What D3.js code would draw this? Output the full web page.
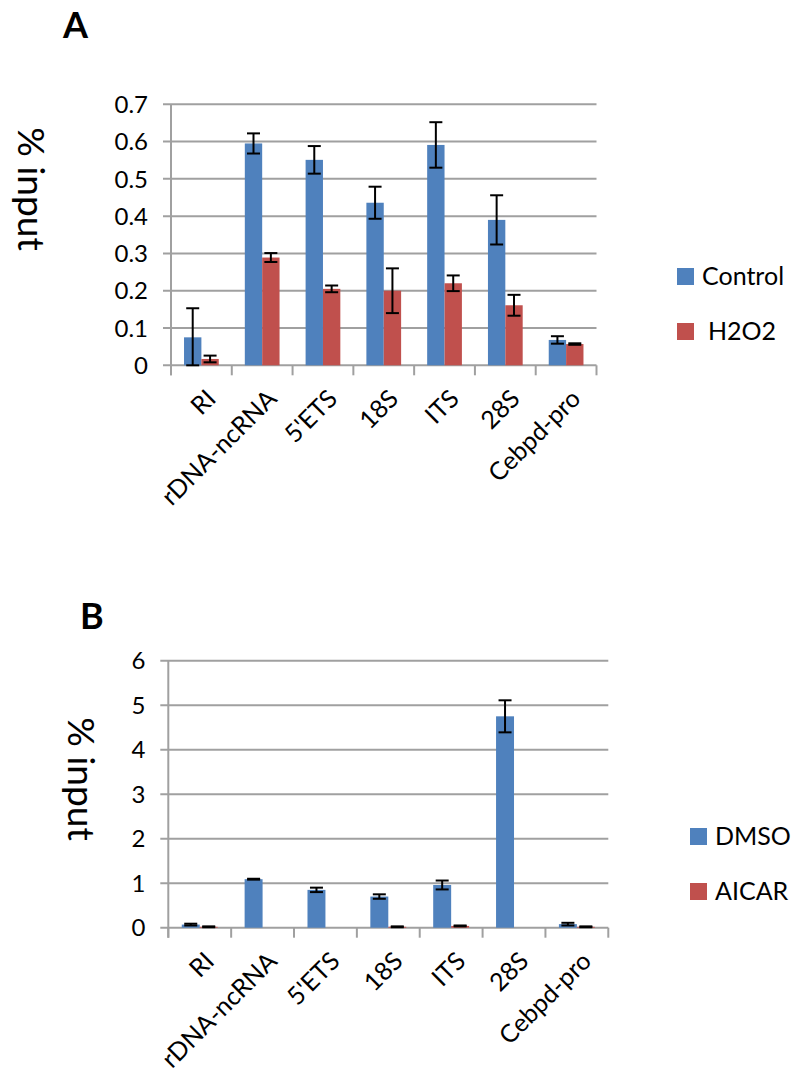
<!DOCTYPE html>
<html>
<head>
<meta charset="utf-8">
<script src="https://cdn.jsdelivr.net/npm/d3@7"></script>
<style>
  body { margin: 0; background: #fff; }
  text { font-family: Lato, "Open Sans", sans-serif; fill: #000; }
</style>
</head>
<body>
<svg id="chart" width="792" height="1074"></svg>
<script>
// categories shared by both panels
var categories = ["RI", "rDNA-ncRNA", "5'ETS", "18S", "ITS", "28S", "Cebpd-pro"];

// panel A values
var controlVals = [0.075, 0.595, 0.551, 0.436, 0.591, 0.390, 0.068];
var controlErr  = [0.078, 0.027, 0.037, 0.043, 0.061, 0.066, 0.010];
var h2o2Vals    = [0.017, 0.289, 0.205, 0.200, 0.220, 0.161, 0.057];
var h2o2Err     = [0.009, 0.012, 0.009, 0.060, 0.021, 0.028, 0.002];
var ticksA = [0, 0.1, 0.2, 0.3, 0.4, 0.5, 0.6, 0.7];

// panel B values
var dmsoVals  = [0.07, 1.09, 0.85, 0.70, 0.96, 4.75, 0.08];
var dmsoErr   = [0.02, 0.01, 0.05, 0.05, 0.10, 0.36, 0.03];
var aicarVals = [0.02, 0, 0, 0.02, 0.04, 0, 0.02];
var aicarErr  = [0.01, 0, 0, 0.01, 0.01, 0, 0.01];
var ticksB = [0, 1, 2, 3, 4, 5, 6];

var blue = "#4f81bd", red = "#c0504d", grid = "#a0a0a0";

var svg = d3.select("#chart");

function drawPanel(opt) {
  var g = svg.append("g");

  var x0 = d3.scaleBand().domain(categories).range([opt.left, opt.right]).paddingInner(0).paddingOuter(0);
  var x1 = d3.scaleBand().domain(opt.series).range([0, x0.bandwidth()]).paddingInner(0).paddingOuter(0.75);
  var y = d3.scaleLinear().domain([0, opt.max]).range([opt.bottom, opt.top]);

  // gridlines
  g.selectAll(".grid").data(opt.ticks).enter().append("line")
    .attr("x1", opt.left - 8).attr("x2", opt.right)
    .attr("y1", function(d) { return y(d); }).attr("y2", function(d) { return y(d); })
    .attr("stroke", grid).attr("stroke-width", 2);

  // left axis line
  g.append("line")
    .attr("x1", opt.left).attr("x2", opt.left)
    .attr("y1", y(opt.max)).attr("y2", opt.bottom + 10)
    .attr("stroke", grid).attr("stroke-width", 2);

  // category tick marks
  var bounds = categories.map(function(c) { return x0(c); }).concat([opt.right]);
  g.selectAll(".ctick").data(bounds).enter().append("line")
    .attr("x1", function(d) { return d; }).attr("x2", function(d) { return d; })
    .attr("y1", opt.bottom).attr("y2", opt.bottom + 10)
    .attr("stroke", grid).attr("stroke-width", 2);

  // y tick labels
  g.selectAll(".ylab").data(opt.ticks).enter().append("text")
    .attr("x", opt.left - 23)
    .attr("y", function(d) { return y(d); })
    .attr("dy", "0.36em")
    .attr("text-anchor", "end")
    .style("font-size", "24px")
    .text(function(d) { return opt.fmt(d); });

  // bars
  var rows = [];
  categories.forEach(function(c, i) {
    opt.series.forEach(function(s, j) {
      rows.push({ cat: c, ser: s, v: opt.vals[j][i], e: opt.errs[j][i], color: opt.colors[j] });
    });
  });

  g.selectAll(".bar").data(rows).enter().append("rect")
    .attr("x", function(d) { return x0(d.cat) + x1(d.ser); })
    .attr("width", x1.bandwidth())
    .attr("y", function(d) { return y(d.v); })
    .attr("height", function(d) { return opt.bottom - y(d.v); })
    .attr("fill", function(d) { return d.color; });

  // error bars
  var eb = g.selectAll(".err").data(rows.filter(function(d) { return d.e > 0; })).enter().append("g")
    .attr("stroke", "#000").attr("stroke-width", 2);
  eb.append("line")
    .attr("x1", function(d) { return x0(d.cat) + x1(d.ser) + x1.bandwidth() / 2; })
    .attr("x2", function(d) { return x0(d.cat) + x1(d.ser) + x1.bandwidth() / 2; })
    .attr("y1", function(d) { return y(Math.max(0, d.v - d.e)); })
    .attr("y2", function(d) { return y(d.v + d.e); });
  [1, -1].forEach(function(sign) {
    eb.append("line")
      .attr("x1", function(d) { return x0(d.cat) + x1(d.ser) + x1.bandwidth() / 2 - 6.5; })
      .attr("x2", function(d) { return x0(d.cat) + x1(d.ser) + x1.bandwidth() / 2 + 6.5; })
      .attr("y1", function(d) { return y(Math.max(0, d.v + sign * d.e)); })
      .attr("y2", function(d) { return y(Math.max(0, d.v + sign * d.e)); });
  });

  // category labels
  g.selectAll(".xlab").data(categories).enter().append("text")
    .attr("transform", function(d) {
      return "translate(" + (x0(d) + x0.bandwidth() / 2 + 16) + "," + (opt.bottom + 35) + ") rotate(-45)";
    })
    .attr("text-anchor", "end")
    .style("font-size", "25px")
    .text(function(d) { return d; });

  // y title
  svg.append("text")
    .attr("transform", "translate(" + opt.titleX + "," + opt.titleY + ") rotate(90)")
    .attr("text-anchor", "middle")
    .style("font-size", "37px")
    .text("% input");

  // panel letter
  svg.append("text")
    .attr("x", opt.letterX).attr("y", opt.letterY)
    .style("font-size", "36px").style("font-weight", "bold")
    .text(opt.letter);

  // legend
  opt.series.forEach(function(s, j) {
    svg.append("rect")
      .attr("x", opt.legX).attr("y", opt.legY + j * 55)
      .attr("width", 17).attr("height", 17)
      .attr("fill", opt.colors[j]);
    svg.append("text")
      .attr("x", opt.legX + 25 + (opt.legShift[j] || 0)).attr("y", opt.legY + j * 55 + 17)
      .style("font-size", "25px")
      .text(s);
  });
}

drawPanel({
  left: 171, right: 596.5, top: 104.3, bottom: 365.3, max: 0.7,
  ticks: ticksA, fmt: function(d) { return d === 0 ? "0" : d3.format(".1f")(d); },
  series: ["Control", "H2O2"], vals: [controlVals, h2o2Vals], errs: [controlErr, h2o2Err],
  colors: [blue, red],
  titleX: 18, titleY: 189, letter: "A", letterX: 63, letterY: 38,
  legX: 677, legY: 268, legShift: [0, 6]
});

drawPanel({
  left: 168.3, right: 608.3, top: 660.7, bottom: 927.7, max: 6,
  ticks: ticksB, fmt: function(d) { return d; },
  series: ["DMSO", "AICAR"], vals: [dmsoVals, aicarVals], errs: [dmsoErr, aicarErr],
  colors: [blue, red],
  titleX: 68, titleY: 779, letter: "B", letterX: 80, letterY: 629,
  legX: 690, legY: 828, legShift: [0, 0]
});
</script>
</body>
</html>
